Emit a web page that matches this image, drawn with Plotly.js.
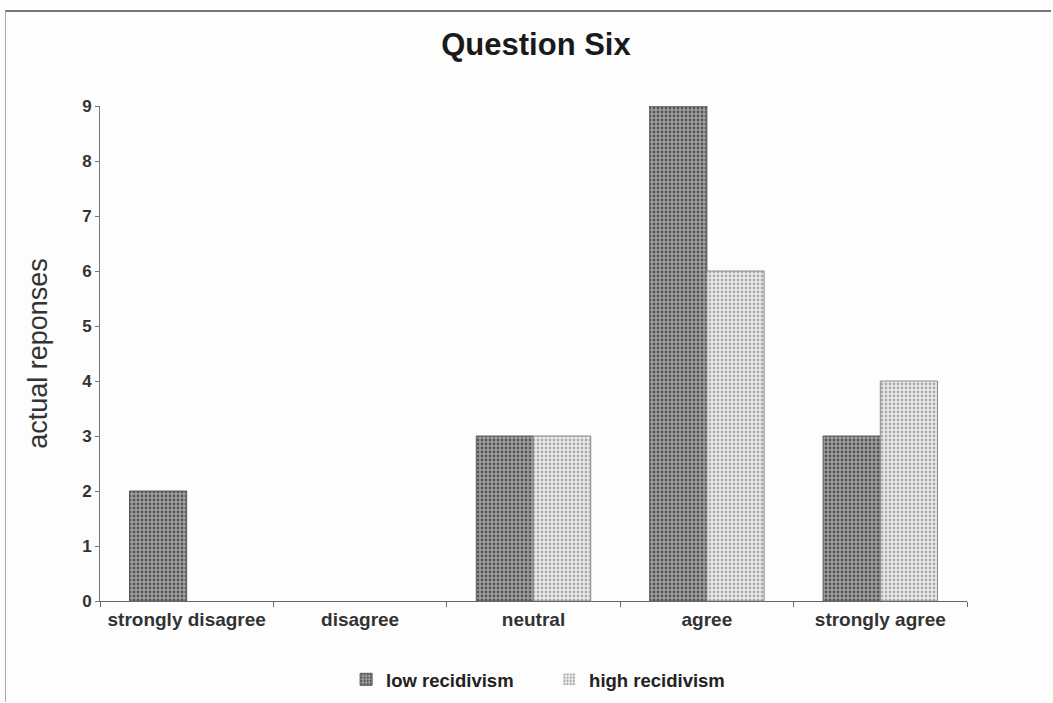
<!DOCTYPE html>
<html>
<head>
<meta charset="utf-8">
<script src="https://cdn.plot.ly/plotly-3.0.1.min.js"></script>
<style>
  html, body { margin: 0; padding: 0; background: #fdfdfd; }
  #wrap { position: relative; width: 1053px; height: 703px; }
  #chart { position: absolute; left: 0; top: 0; width: 1053px; height: 703px; }
  #frame { position: absolute; left: 5px; top: 10px; width: 1046px; height: 692px;
           border-top: 2px solid #777; border-left: 1px solid #aaa; box-sizing: border-box;
           pointer-events: none; }
</style>
</head>
<body>
<div id="wrap">
  <div id="chart"></div>
  <div id="frame"></div>
</div>
<script>
// Survey answers, question six
const categories = ["strongly disagree", "disagree", "neutral", "agree", "strongly agree"];
const lowRecidivism = [2, 0, 3, 9, 3];
const highRecidivism = [0, 0, 3, 6, 4];
const yTicks = [0, 1, 2, 3, 4, 5, 6, 7, 8, 9];

const font = "Liberation Sans, Arial, sans-serif";

// empty bars get no outline so nothing is drawn on the baseline
const outline = vals => vals.map(v => (v > 0 ? 1 : 0));

const traces = [
  {
    type: "bar", name: "low recidivism", x: categories, y: lowRecidivism,
    marker: {
      color: "#909090",
      line: { color: "#5a5a5a", width: outline(lowRecidivism) },
      pattern: { shape: ".", fgcolor: "#555555", bgcolor: "#a0a0a0", size: 4, solidity: 0.4 }
    }
  },
  {
    type: "bar", name: "high recidivism", x: categories, y: highRecidivism,
    marker: {
      color: "#e2e2e2",
      line: { color: "#8a8a8a", width: outline(highRecidivism) },
      pattern: { shape: ".", fgcolor: "#ababab", bgcolor: "#ececec", size: 4, solidity: 0.4 }
    }
  }
];

const layout = {
  width: 1053, height: 703,
  paper_bgcolor: "#fdfdfd", plot_bgcolor: "#fdfdfd",
  margin: { l: 100, r: 86, t: 106, b: 102 },
  font: { family: font, color: "#222" },
  title: {
    text: "<b>Question Six</b>", x: 0.509, xanchor: "center", y: 0.937, yanchor: "middle",
    font: { family: font, size: 31, color: "#1a1a1a" }
  },
  barmode: "group", bargap: 0.34, bargroupgap: 0,
  xaxis: {
    type: "category", tickson: "boundaries", ticks: "outside", ticklen: 5, tickcolor: "#666",
    showline: true, linecolor: "#666", linewidth: 1, showgrid: false, ticklabelstandoff: 1,
    tickfont: { family: font, size: 19, color: "#333", weight: "bold" }
  },
  yaxis: {
    range: [0, 9], tickvals: yTicks, ticks: "outside", ticklen: 4, tickcolor: "#777",
    showline: true, linecolor: "#777", linewidth: 1, showgrid: false, zeroline: false,
    tickfont: { family: font, size: 17, color: "#333", weight: "bold" },
    title: { text: "actual reponses", standoff: 26, font: { family: font, size: 27, color: "#333" } }
  },
  showlegend: true,
  legend: {
    orientation: "h", x: 0.518, xanchor: "center", yref: "container", y: 0.033, yanchor: "middle",
    font: { family: font, size: 18.5, color: "#222", weight: "bold" },
    itemwidth: 30, entrywidth: 158, entrywidthmode: "pixels", traceorder: "normal"
  }
};

Plotly.newPlot("chart", traces, layout, { displayModeBar: false, staticPlot: true });
</script>
</body>
</html>
